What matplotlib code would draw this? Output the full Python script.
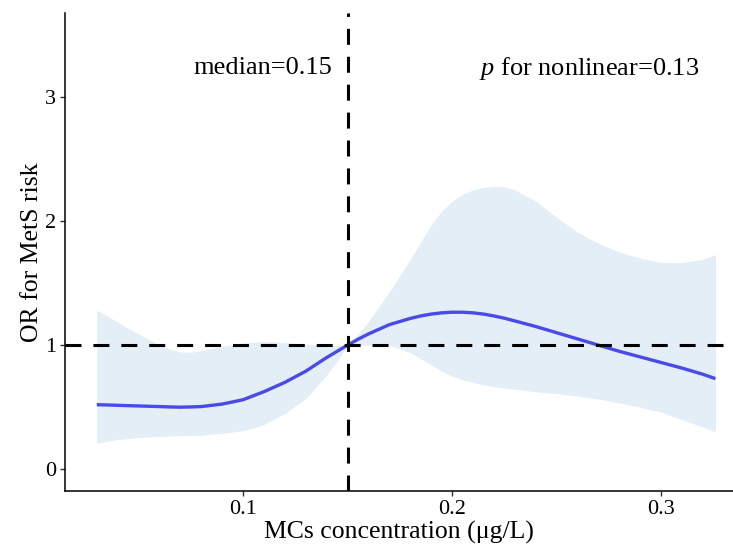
import matplotlib
matplotlib.use("Agg")
import matplotlib.pyplot as plt

plt.rcParams['font.family'] = ['Liberation Serif', 'DejaVu Serif']
plt.rcParams['mathtext.fontset'] = 'custom'
plt.rcParams['mathtext.rm'] = 'Liberation Serif'
plt.rcParams['mathtext.it'] = 'Liberation Serif:italic'
plt.rcParams['lines.scale_dashes'] = False

# Data
conc = [0.030, 0.035, 0.040, 0.050, 0.060, 0.065, 0.070, 0.075, 0.080, 0.090,
        0.100, 0.110, 0.120, 0.130, 0.140, 0.145, 0.150, 0.155, 0.160, 0.170,
        0.180, 0.185, 0.190, 0.195, 0.200, 0.205, 0.210, 0.215, 0.220, 0.225,
        0.230, 0.240, 0.250, 0.260, 0.270, 0.280, 0.290, 0.300, 0.310, 0.320, 0.326]
or_est = [0.52, 0.518, 0.515, 0.51, 0.505, 0.502, 0.50, 0.502, 0.505, 0.525,
          0.56, 0.625, 0.70, 0.79, 0.90, 0.95, 1.00, 1.047, 1.09, 1.165,
          1.215, 1.235, 1.25, 1.26, 1.265, 1.265, 1.26, 1.25, 1.235, 1.217,
          1.195, 1.15, 1.10, 1.05, 1.00, 0.95, 0.905, 0.86, 0.815, 0.765, 0.73]
or_upper = [1.28, 1.235, 1.185, 1.09, 1.00, 0.965, 0.945, 0.942, 0.955, 0.99,
            1.015, 1.03, 1.02, 1.005, 0.995, 0.995, 1.00, 1.09, 1.19, 1.43,
            1.69, 1.83, 1.97, 2.08, 2.16, 2.215, 2.25, 2.27, 2.28, 2.275,
            2.25, 2.16, 2.03, 1.91, 1.82, 1.75, 1.70, 1.665, 1.665, 1.69, 1.73]
or_lower = [0.21, 0.225, 0.24, 0.255, 0.265, 0.268, 0.27, 0.272, 0.275, 0.29,
            0.31, 0.36, 0.45, 0.57, 0.76, 0.87, 1.00, 1.00, 1.00, 1.00,
            0.94, 0.89, 0.84, 0.79, 0.75, 0.72, 0.70, 0.68, 0.665, 0.655,
            0.645, 0.625, 0.61, 0.59, 0.565, 0.535, 0.50, 0.46, 0.40, 0.34, 0.30]
median_value = 0.15
ref_or = 1.0
x_ticks = [0.1, 0.2, 0.3]
y_ticks = [0, 1, 2, 3]

fig = plt.figure(figsize=(7.33, 5.5), dpi=100)
ax = fig.add_axes([65/733, 59/550, 1 - 65/733, (491-13)/550])

ax.fill_between(conc, or_lower, or_upper, color='#e3eef6', linewidth=0, zorder=1)
ax.plot(conc, or_est, color='#4a4ae8', linewidth=2.4, zorder=3, solid_capstyle='butt')
ax.axhline(ref_or, color='black', linewidth=2.2, dashes=(11.5, 8.6), zorder=4)
ax.axvline(median_value, color='black', linewidth=2.2, dashes=(11.5, 8.6), zorder=4)

ax.text(0.1096, 3.23, 'median=0.15', ha='center', va='center', fontsize=19)
ax.text(0.2656, 3.23, '$p$ for nonlinear=0.13', ha='center', va='center', fontsize=19)

ax.set_xlim(0.0148, 0.3344)
ax.set_ylim(-0.175, 3.675)
ax.set_xticks(x_ticks)
ax.set_xticklabels([f'{t:.1f}' for t in x_ticks])
ax.set_yticks(y_ticks)
ax.set_yticklabels([str(t) for t in y_ticks])
ax.tick_params(axis='both', labelsize=16, length=3.5, width=1.0, color='#333333',
               labelcolor='black', pad=3)

for s in ['top', 'right']:
    ax.spines[s].set_visible(False)
for s in ['left', 'bottom']:
    ax.spines[s].set_linewidth(1.1)
    ax.spines[s].set_color('black')

ax.set_xlabel('MCs concentration (μg/L)', fontsize=18.5, labelpad=1)
ax.set_ylabel('OR for MetS risk', fontsize=18.5, labelpad=1)

fig.savefig('out.png', dpi=100)
